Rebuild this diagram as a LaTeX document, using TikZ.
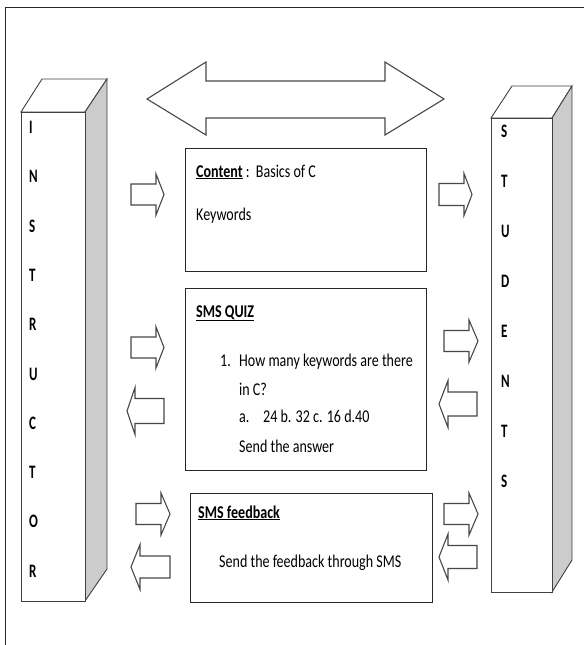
\documentclass[tikz,border=0pt]{standalone}
\usepackage{fontspec}
\setmainfont{Carlito}[FakeStretch=0.78]
\tikzset{
  frameline/.style={draw=black!85, line width=0.9pt},
  boxnode/.style={draw=black!85, line width=1pt, inner sep=0pt, anchor=north west},
  blk/.style={draw=black!72, line width=1.1pt, fill=white, line join=miter},
  pil/.style={draw=black!75, line width=0.9pt, fill=white, line join=miter},
  pilside/.style={pil, fill=black!20},
  letter/.style={font=\bfseries\fontsize{19}{19}\selectfont, anchor=base west, inner sep=0pt},
  txt/.style={font=\fontsize{18}{18}\selectfont, anchor=base west, inner sep=0pt},
}
\newcommand\BlkArrow[6]{\draw[blk] (#1,#4-#5) -- (#2,#4-#5) -- (#2,#4-#6) -- (#3,#4) -- (#2,#4+#6) -- (#2,#4+#5) -- (#1,#4+#5) -- cycle;}
\newcommand\Narrow[1]{\scalebox{0.88}[1]{#1}}
\begin{document}
\begin{tikzpicture}[x=1pt,y=-1pt]
\useasboundingbox (0,0) rectangle (584,645);
\fill[white] (0,0) rectangle (584,645);
% frame
\draw[frameline] (5,645) -- (5,7) -- (584,7);
% big double arrow
\draw[blk] (147,99) -- (206,62) -- (206,81) -- (385,81) -- (385,62) -- (444,99) -- (385,135) -- (385,118) -- (206,118) -- (206,135) -- cycle;
% left pillar
\draw[pil] (21,112) -- (42,79) -- (107,79) -- (85,112) -- cycle;
\draw[pilside] (85,112) -- (107,79) -- (107,569) -- (85,601) -- cycle;
\draw[pil] (21,112) rectangle (85,601);
% right pillar
\draw[pil] (491,118) -- (512,86) -- (572,86) -- (552,118) -- cycle;
\draw[pilside] (552,118) -- (572,86) -- (572,560) -- (552,592) -- cycle;
\draw[pil] (491,118) rectangle (552,592);
% pillar letters
\foreach \l [count=\i from 0] in {I,N,S,T,R,U,C,T,O,R}
  \node[letter] (ins\i) at (29,133.5+49.3*\i) {\Narrow{\l}};
\foreach \l [count=\i from 0] in {S,T,U,D,E,N,T,S}
  \node[letter] (stu\i) at (501,137.5+50*\i) {\Narrow{\l}};
% boxes
\node[boxnode, minimum width=241pt, minimum height=123pt] (content) at (185,148) {};
\node[boxnode, minimum width=241pt, minimum height=182pt] (quiz) at (185,288) {};
\node[boxnode, minimum width=242pt, minimum height=109pt] (feedback) at (190,493) {};
% box texts
\node[txt] (c1) at (196,177) {\underline{\textbf{Content}}\ :\ \ Basics of C};
\node[txt] (c2) at (196,220) {Keywords};
\node[txt] (q0) at (196,317) {\underline{\textbf{SMS QUIZ}}};
\node[txt] (q1n) at (220,366) {1.};
\node[txt] (q1) at (239,366) {How many keywords are there};
\node[txt] (q2) at (239,395) {in C?};
\node[txt] (q3n) at (239,422) {a.};
\node[txt] (q3) at (263,422) {24 b. 32 c. 16 d.40};
\node[txt] (q4) at (239,452) {Send the answer};
\node[txt] (f0) at (198,518) {\underline{\textbf{SMS feedback}}};
\node[txt] (f1) at (219,567) {Send the feedback through SMS};
% small block arrows
\BlkArrow{131}{156}{164}{194.5}{10.5}{20.5}
\BlkArrow{131}{156}{164}{347.5}{10.5}{20.5}
\BlkArrow{164}{135}{127}{411}{12.5}{23.5}
\BlkArrow{136}{161}{170}{514}{10.5}{21}
\BlkArrow{170}{140}{131}{567}{11}{22.5}
\BlkArrow{439}{464}{472}{194.5}{11}{21}
\BlkArrow{444}{469}{478}{341}{10.5}{21}
\BlkArrow{477}{448}{439}{404}{12}{23.5}
\BlkArrow{444}{469}{478}{514}{10.5}{21}
\BlkArrow{477}{448}{439}{557}{11.5}{23}
\end{tikzpicture}
\end{document}
